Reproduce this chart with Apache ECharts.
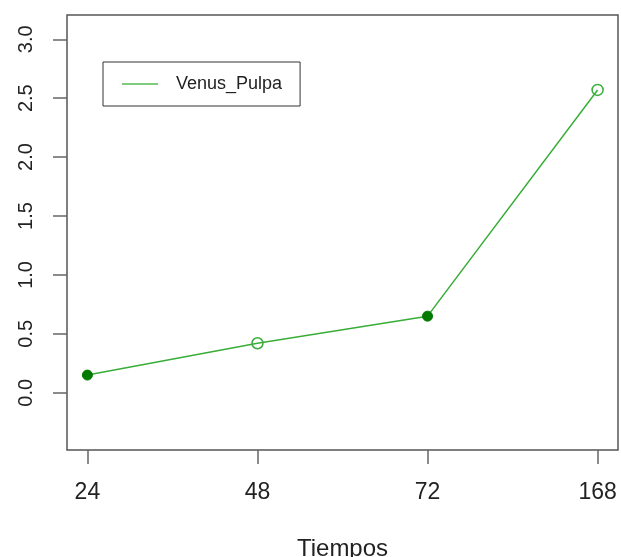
<!DOCTYPE html>
<html>
<head>
<meta charset="utf-8">
<script src="https://cdn.jsdelivr.net/npm/echarts@6/dist/echarts.min.js"></script>
<style>
  html, body { margin: 0; padding: 0; background: #fff; }
  #chart { width: 621px; height: 557px; }
</style>
</head>
<body>
<div id="chart"></div>
<script>
// Sampling times (hours) and measured values for the series
const tiempos = ['24', '48', '72', '168'];
const venusPulpa = [0.15, 0.42, 0.65, 2.57];
const yTicks = [0, 0.5, 1, 1.5, 2, 2.5, 3];
const seriesName = 'Venus_Pulpa';

const lineColor = '#38ad38';
const darkGreen = '#007a00';
const font = '"Liberation Sans", Arial, sans-serif';

// x positions are the time indices 1..n, padded 4% on each side
const xIdx = tiempos.map((_, i) => i + 1);
const n = tiempos.length;
const xPad = (n - 1) * 0.04;

const points = venusPulpa.map((v, i) => {
  const filled = i % 2 === 0;
  return {
    value: [xIdx[i], v],
    symbolSize: filled ? 10 : 11,
    itemStyle: filled
      ? { color: darkGreen, borderColor: darkGreen, borderWidth: 1 }
      : { color: 'transparent', borderColor: lineColor, borderWidth: 1.5 }
  };
});

const chart = echarts.init(document.getElementById('chart'), null, { renderer: 'canvas' });
chart.setOption({
  animation: false,
  backgroundColor: '#ffffff',
  grid: {
    left: 67, right: 3, top: 15, bottom: 107,
    show: true, borderColor: '#555555', borderWidth: 1.5,
    containLabel: false,
    outerBoundsMode: 'none'
  },
  legend: {
    show: true,
    left: 103, top: 62,
    orient: 'vertical',
    padding: [13, 18, 13, 19],
    borderColor: '#333333', borderWidth: 1, borderRadius: 0,
    backgroundColor: '#ffffff',
    icon: 'rect',
    itemWidth: 36, itemHeight: 2,
    textStyle: { fontFamily: font, fontSize: 18, color: '#222', padding: [0, 0, 0, 13] },
    data: [{ name: seriesName, itemStyle: { color: '#7fcc7f' } }]
  },
  xAxis: {
    type: 'value',
    min: 1 - xPad, max: n + xPad,
    name: 'Tiempos',
    nameLocation: 'middle',
    nameGap: 87,
    nameTextStyle: { fontFamily: font, fontSize: 24, color: '#222' },
    axisLine: { show: false, onZero: false },
    splitLine: { show: false },
    axisTick: { show: true, length: 14, customValues: xIdx, lineStyle: { color: '#666', width: 1.5 } },
    axisLabel: {
      customValues: xIdx,
      margin: 31,
      fontFamily: font, fontSize: 23, color: '#222',
      formatter: v => tiempos[Math.round(v) - 1]
    }
  },
  yAxis: {
    type: 'value',
    min: -0.486, max: 3.206,
    axisLine: { show: false, onZero: false },
    splitLine: { show: false },
    axisTick: { show: true, length: 14, customValues: yTicks, lineStyle: { color: '#666', width: 1.5 } },
    axisLabel: {
      customValues: yTicks,
      rotate: 90,
      margin: 31,
      align: 'center',
      verticalAlign: 'bottom',
      fontFamily: font, fontSize: 20, color: '#222',
      formatter: v => v.toFixed(1)
    }
  },
  series: [{
    name: seriesName,
    type: 'line',
    data: points,
    symbol: 'circle',
    showSymbol: true,
    lineStyle: { color: lineColor, width: 1.5 },
    itemStyle: { color: lineColor },
    z: 3
  }]
});
</script>
</body>
</html>
